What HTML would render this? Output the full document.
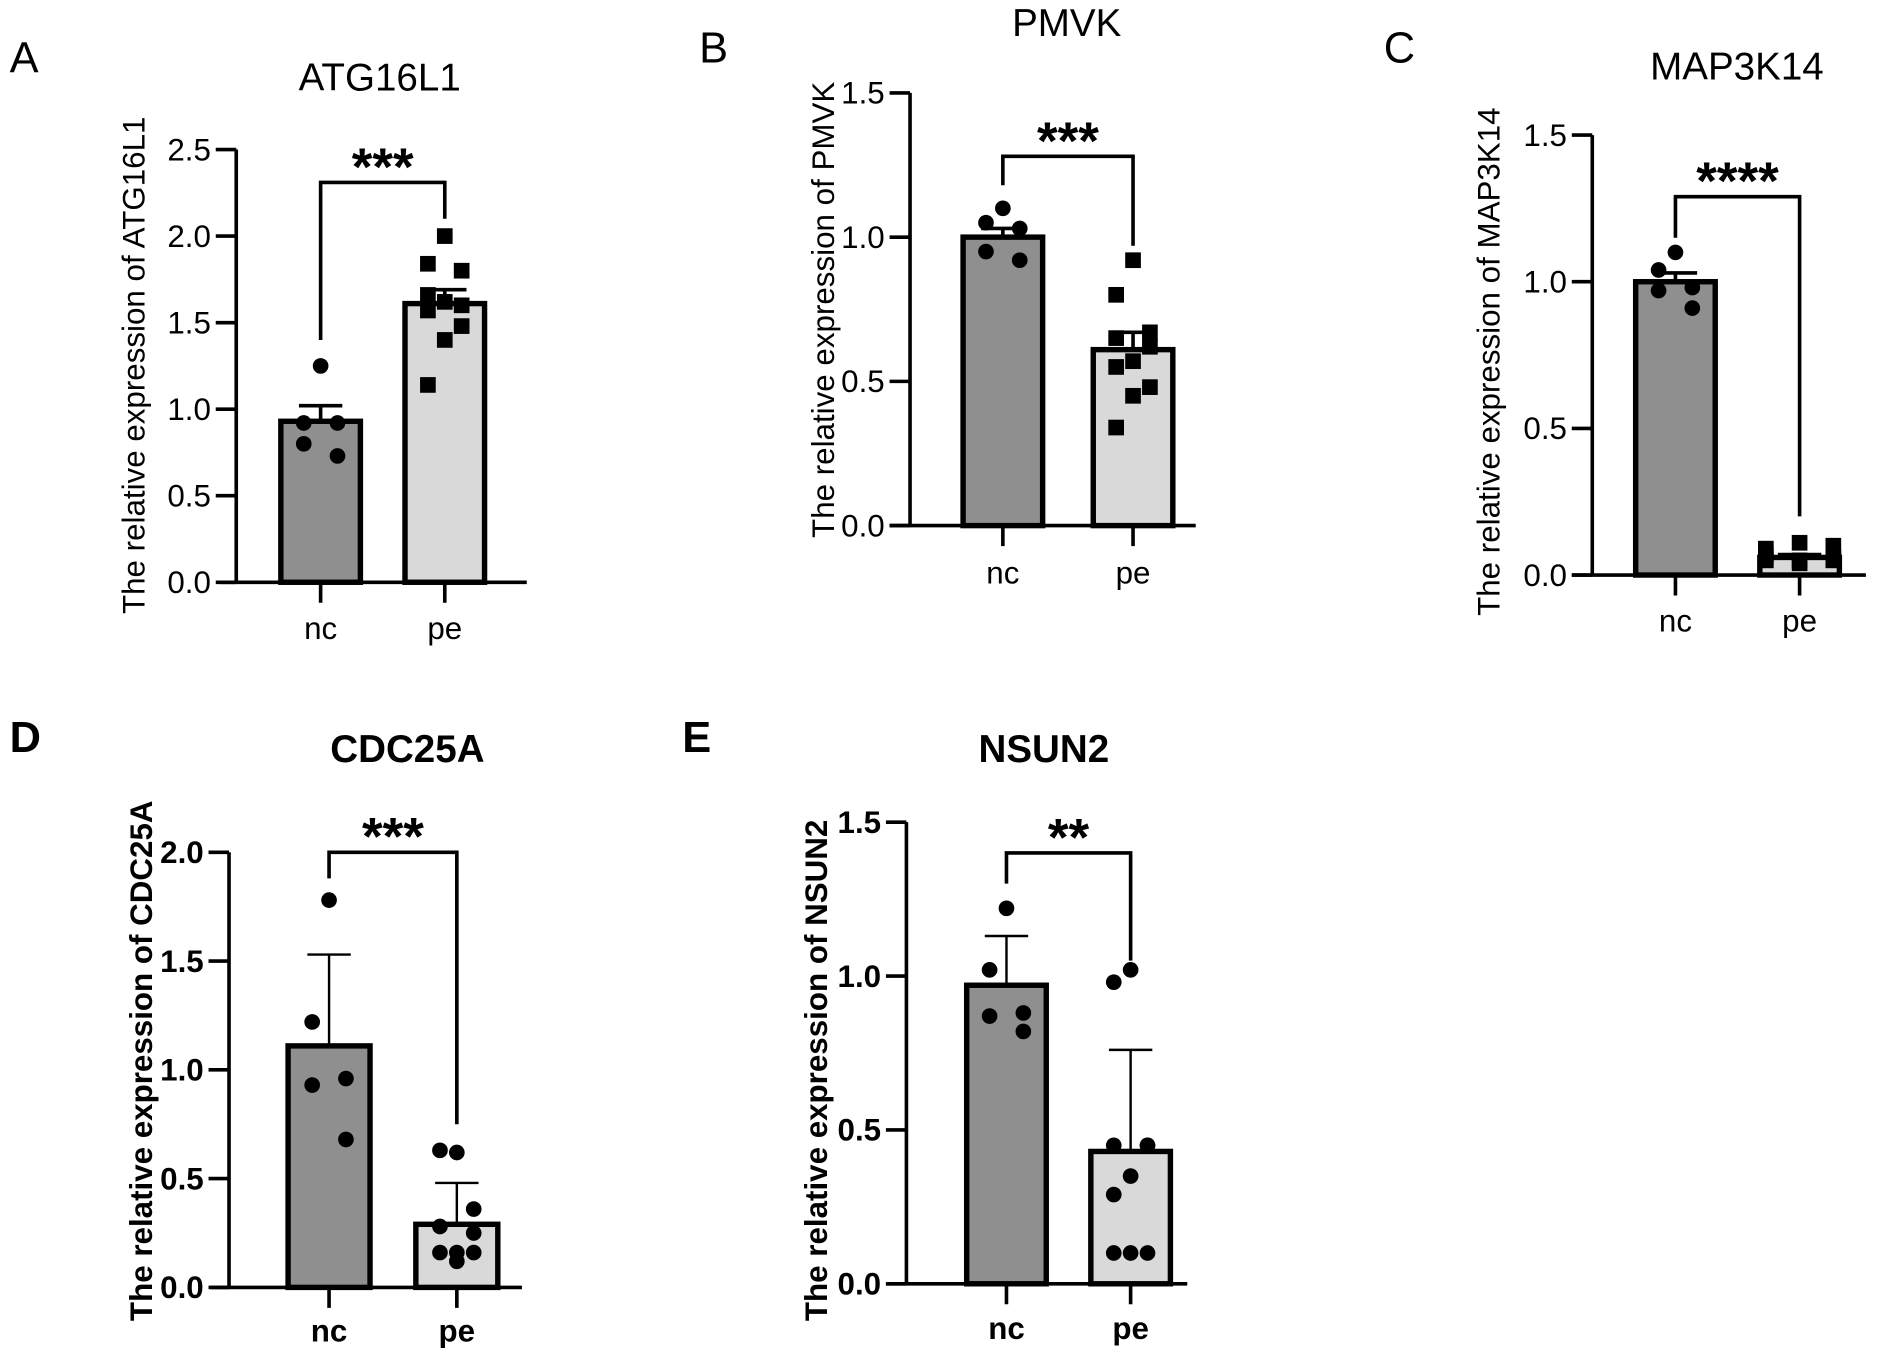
<!DOCTYPE html>
<html><head><meta charset="utf-8"><style>
html,body{margin:0;padding:0;background:#fff;}
svg{display:block;}
text{font-family:"Liberation Sans",Arial,sans-serif;fill:#000;}
</style></head><body>
<svg id="chart" width="1890" height="1361" viewBox="0 0 1568 1129" xmlns="http://www.w3.org/2000/svg"></svg>
<script>
// ---- data ----
const categories = ["nc", "pe"];
const panelLetters = ["A", "B", "C", "D", "E"];
const panelTitles = ["ATG16L1", "PMVK", "MAP3K14", "CDC25A", "NSUN2"];
const yMaxes = [2.5, 1.5, 1.5, 2.0, 1.5];
const yTicksA = ["0.0","0.5","1.0","1.5","2.0","2.5"];
const yTicksB = ["0.0","0.5","1.0","1.5"];
const yTicksC = ["0.0","0.5","1.0","1.5"];
const yTicksD = ["0.0","0.5","1.0","1.5","2.0"];
const yTicksE = ["0.0","0.5","1.0","1.5"];
const significance = ["***", "***", "****", "***", "**"];
const meansA = [0.93, 1.61], errA = [1.02, 1.69];
const ncPtsA = [1.25, 0.92, 0.92, 0.80, 0.73];
const pePtsA = [2.0, 1.84, 1.80, 1.66, 1.60, 1.62, 1.57, 1.48, 1.40, 1.14];
const meansB = [1.0, 0.61], errB = [1.03, 0.67];
const ncPtsB = [1.10, 1.05, 1.03, 0.95, 0.92];
const pePtsB = [0.92, 0.80, 0.67, 0.65, 0.62, 0.57, 0.55, 0.48, 0.45, 0.34];
const meansC = [1.0, 0.06], errC = [1.03, 0.07];
const ncPtsC = [1.10, 1.04, 0.98, 0.97, 0.91];
const pePtsC = [0.11, 0.09, 0.10, 0.05, 0.06, 0.04, 0.07, 0.05, 0.05];
const meansD = [1.11, 0.29], errD = [1.53, 0.48];
const ncPtsD = [1.78, 1.22, 0.96, 0.93, 0.68];
const pePtsD = [0.62, 0.63, 0.36, 0.28, 0.25, 0.16, 0.16, 0.16, 0.12];
const meansE = [0.97, 0.43], errE = [1.13, 0.76];
const ncPtsE = [1.22, 1.02, 0.88, 0.87, 0.82];
const pePtsE = [1.02, 0.98, 0.45, 0.45, 0.45, 0.35, 0.29, 0.10, 0.10, 0.10];
const bracketTops = [2.31, 1.28, 1.29, 2.0, 1.40];
const bracketLeftEnds = [1.40, 1.18, 1.15, 1.88, 1.30];
const bracketRightEnds = [2.10, 0.97, 0.20, 0.75, 1.05];

// ---- layout (not data) ----
const layouts = [
 {ax:196,y0:483,yTop:124,x0:183,x1:437,c:[266,369],bw:66,letter:[8,60],title:[315,75],ylab:[120,303],xl:530,bold:false,sq:[false,true],js:1,ticks:yTicksA,m:meansA,e:errA,p:[ncPtsA,pePtsA]},
 {ax:755,y0:436,yTop:77,x0:738,x1:992,c:[832,940],bw:66,letter:[580,52],title:[885,30],ylab:[692,257],xl:484,bold:false,sq:[false,true],js:1,ticks:yTicksB,m:meansB,e:errB,p:[ncPtsB,pePtsB]},
 {ax:1321,y0:477,yTop:112,x0:1304,x1:1548,c:[1390,1493],bw:66,letter:[1148,52],title:[1441,66],ylab:[1244,300],xl:524,bold:false,sq:[false,true],js:2,ticks:yTicksC,m:meansC,e:errC,p:[ncPtsC,pePtsC]},
 {ax:190,y0:1068,yTop:707,x0:175,x1:433,c:[273,379],bw:68,letter:[8,624],title:[338,632],ylab:[126,880],xl:1113,bold:true,sq:[false,false],js:1,ticks:yTicksD,m:meansD,e:errD,p:[ncPtsD,pePtsD]},
 {ax:752,y0:1065,yTop:682,x0:735,x1:985,c:[835,938],bw:66,letter:[566,624],title:[866,632],ylab:[686,888],xl:1111,bold:true,sq:[false,false],js:1,ticks:yTicksE,m:meansE,e:errE,p:[ncPtsE,pePtsE]}
];
const svg = document.getElementById('chart');
const NS = 'http://www.w3.org/2000/svg';
function mk(tag, attrs, parent){const el=document.createElementNS(NS,tag);for(const k in attrs)el.setAttribute(k,attrs[k]);parent.appendChild(el);return el;}
const jit = [0,-14,14,-14,14,0,-14,14,0,-14];

layouts.forEach((L, pi) => {
  const g = mk('g', {}, svg);
  
  
  const ymax = yMaxes[pi];
  const yS = v => L.y0 - (L.y0 - L.yTop) * v / ymax;
  const fw = L.bold ? 'bold' : 'normal';
  const fs = 26;
  const lt = mk('text', {x:L.letter[0], y:L.letter[1], 'font-size':36, 'font-weight':fw}, g);
  lt.textContent = panelLetters[pi];
  
  
  const tt = mk('text', {x:L.title[0], y:L.title[1], 'font-size':32, 'font-weight':fw, 'text-anchor':'middle'}, g);
  tt.textContent = panelTitles[pi];
  
  
  const yl = mk('text', {x:0, y:0, 'font-size':fs, 'font-weight':fw, 'text-anchor':'middle', transform:`translate(${L.ylab[0]},${L.ylab[1]}) rotate(-90)`}, g);
  yl.textContent = 'The relative expression of ' + panelTitles[pi];
  
  
  categories.forEach((cat, ci) => {
    const cx = L.c[ci], top = yS(L.m[ci]);
    const errTop = yS(L.e[ci]);
    const eb = mk('line', {x1:cx, x2:cx, y1:top, y2:errTop, stroke:'#000', 'stroke-width':L.bold?2:3}, g);
    
    
    const cap = mk('line', {x1:cx-18, x2:cx+18, y1:errTop, y2:errTop, stroke:'#000', 'stroke-width':L.bold?2:3}, g);
    
    
    const r = mk('rect', {x:cx-L.bw/2, y:top, width:L.bw, height:L.y0-top, fill:ci?'#d9d9d9':'#8f8f8f', stroke:'#000', 'stroke-width':4.5}, g);
    
    
    L.p[ci].forEach((v, i) => {
      const js = ci ? L.js : 1;
      const px = cx + jit[i % jit.length] * js, py = yS(v);
      let pt;
      if (L.sq[ci]) pt = mk('rect', {x:px-6.5, y:py-6.5, width:13, height:13, fill:'#000'}, g);
      else pt = mk('circle', {cx:px, cy:py, r:6.5, fill:'#000'}, g);
      
      
    });
    const xt = mk('line', {x1:cx, x2:cx, y1:L.y0, y2:L.y0+17, stroke:'#000', 'stroke-width':3}, g);
    
    
    const xl = mk('text', {x:cx, y:L.xl, 'font-size':fs, 'font-weight':fw, 'text-anchor':'middle'}, g);
    xl.textContent = cat;
    
    
  });
  const ya = mk('line', {x1:L.ax, x2:L.ax, y1:L.yTop, y2:L.y0, stroke:'#000', 'stroke-width':3}, g);
  
  
  const xa = mk('line', {x1:L.x0, x2:L.x1, y1:L.y0, y2:L.y0, stroke:'#000', 'stroke-width':3}, g);
  
  
  L.ticks.forEach(t => {
    const y = yS(parseFloat(t));
    const tk = mk('line', {x1:L.ax-17, x2:L.ax, y1:y, y2:y, stroke:'#000', 'stroke-width':3}, g);
    
    
    const tl = mk('text', {x:L.ax-21, y:y+9, 'font-size':fs, 'font-weight':fw, 'text-anchor':'end'}, g);
    tl.textContent = t;
    
    
  });
  const bt = yS(bracketTops[pi]);
  const br = mk('path', {d:`M${L.c[0]},${yS(bracketLeftEnds[pi])} V${bt} H${L.c[1]} V${yS(bracketRightEnds[pi])}`, fill:'none', stroke:'#000', 'stroke-width':3}, g);
  
  
  const st = mk('text', {x:(L.c[0]+L.c[1])/2, y:bt+2, 'font-size':44, 'font-weight':'bold', 'text-anchor':'middle'}, g);
  st.textContent = significance[pi];
  
  
});
</script>
</body></html>
